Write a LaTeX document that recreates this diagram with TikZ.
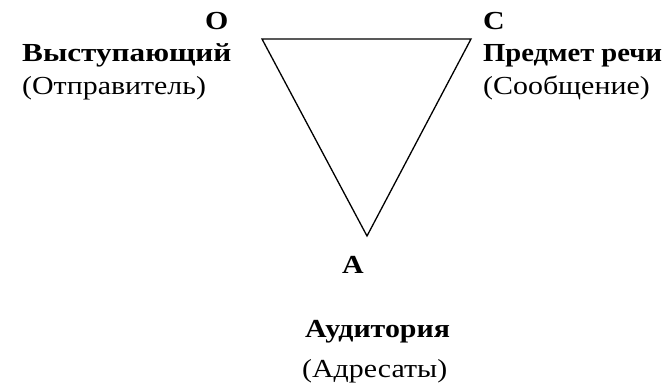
\documentclass[tikz,border=0pt]{standalone}
\usepackage{fontspec}
\usepackage{graphicx}
\setmainfont{Liberation Serif}
\newcommand{\wide}[2][1.15]{\scalebox{#1}[1]{#2}}
\tikzset{
  lbl/.style={inner sep=0pt, anchor=base west, font=\fontsize{26}{30}\selectfont},
  blbl/.style={lbl, font=\fontsize{26}{30}\selectfont\bfseries},
  tri/.style={draw=black, line width=1.3pt, line join=miter}
}
\begin{document}
\begin{tikzpicture}[x=1pt,y=-1pt]
\useasboundingbox (0,0) rectangle (669,387);
\coordinate (vO) at (262,39);
\coordinate (vC) at (471,39);
\coordinate (vA) at (367,236);
\draw[tri] (vO) -- (vC) -- (vA) -- cycle;
\node[blbl] (lO) at (205,30) {\wide{О}};
\node[blbl] (spk) at (22,62) {\wide[1.2]{Выступающий}};
\node[lbl] (snd) at (22,95) {\wide{(Отправитель)}};
\node[blbl] (lC) at (483,30) {\wide{С}};
\node[blbl] (subj) at (483,62) {\wide[1.1]{Предмет речи}};
\node[lbl] (msg) at (483,95) {\wide{(Сообщение)}};
\node[blbl] (lA) at (342,273) {\wide{А}};
\node[blbl] (aud) at (305,337) {\wide{Аудитория}};
\node[lbl] (adr) at (302,377) {\wide{(Адресаты)}};
\end{tikzpicture}
\end{document}
